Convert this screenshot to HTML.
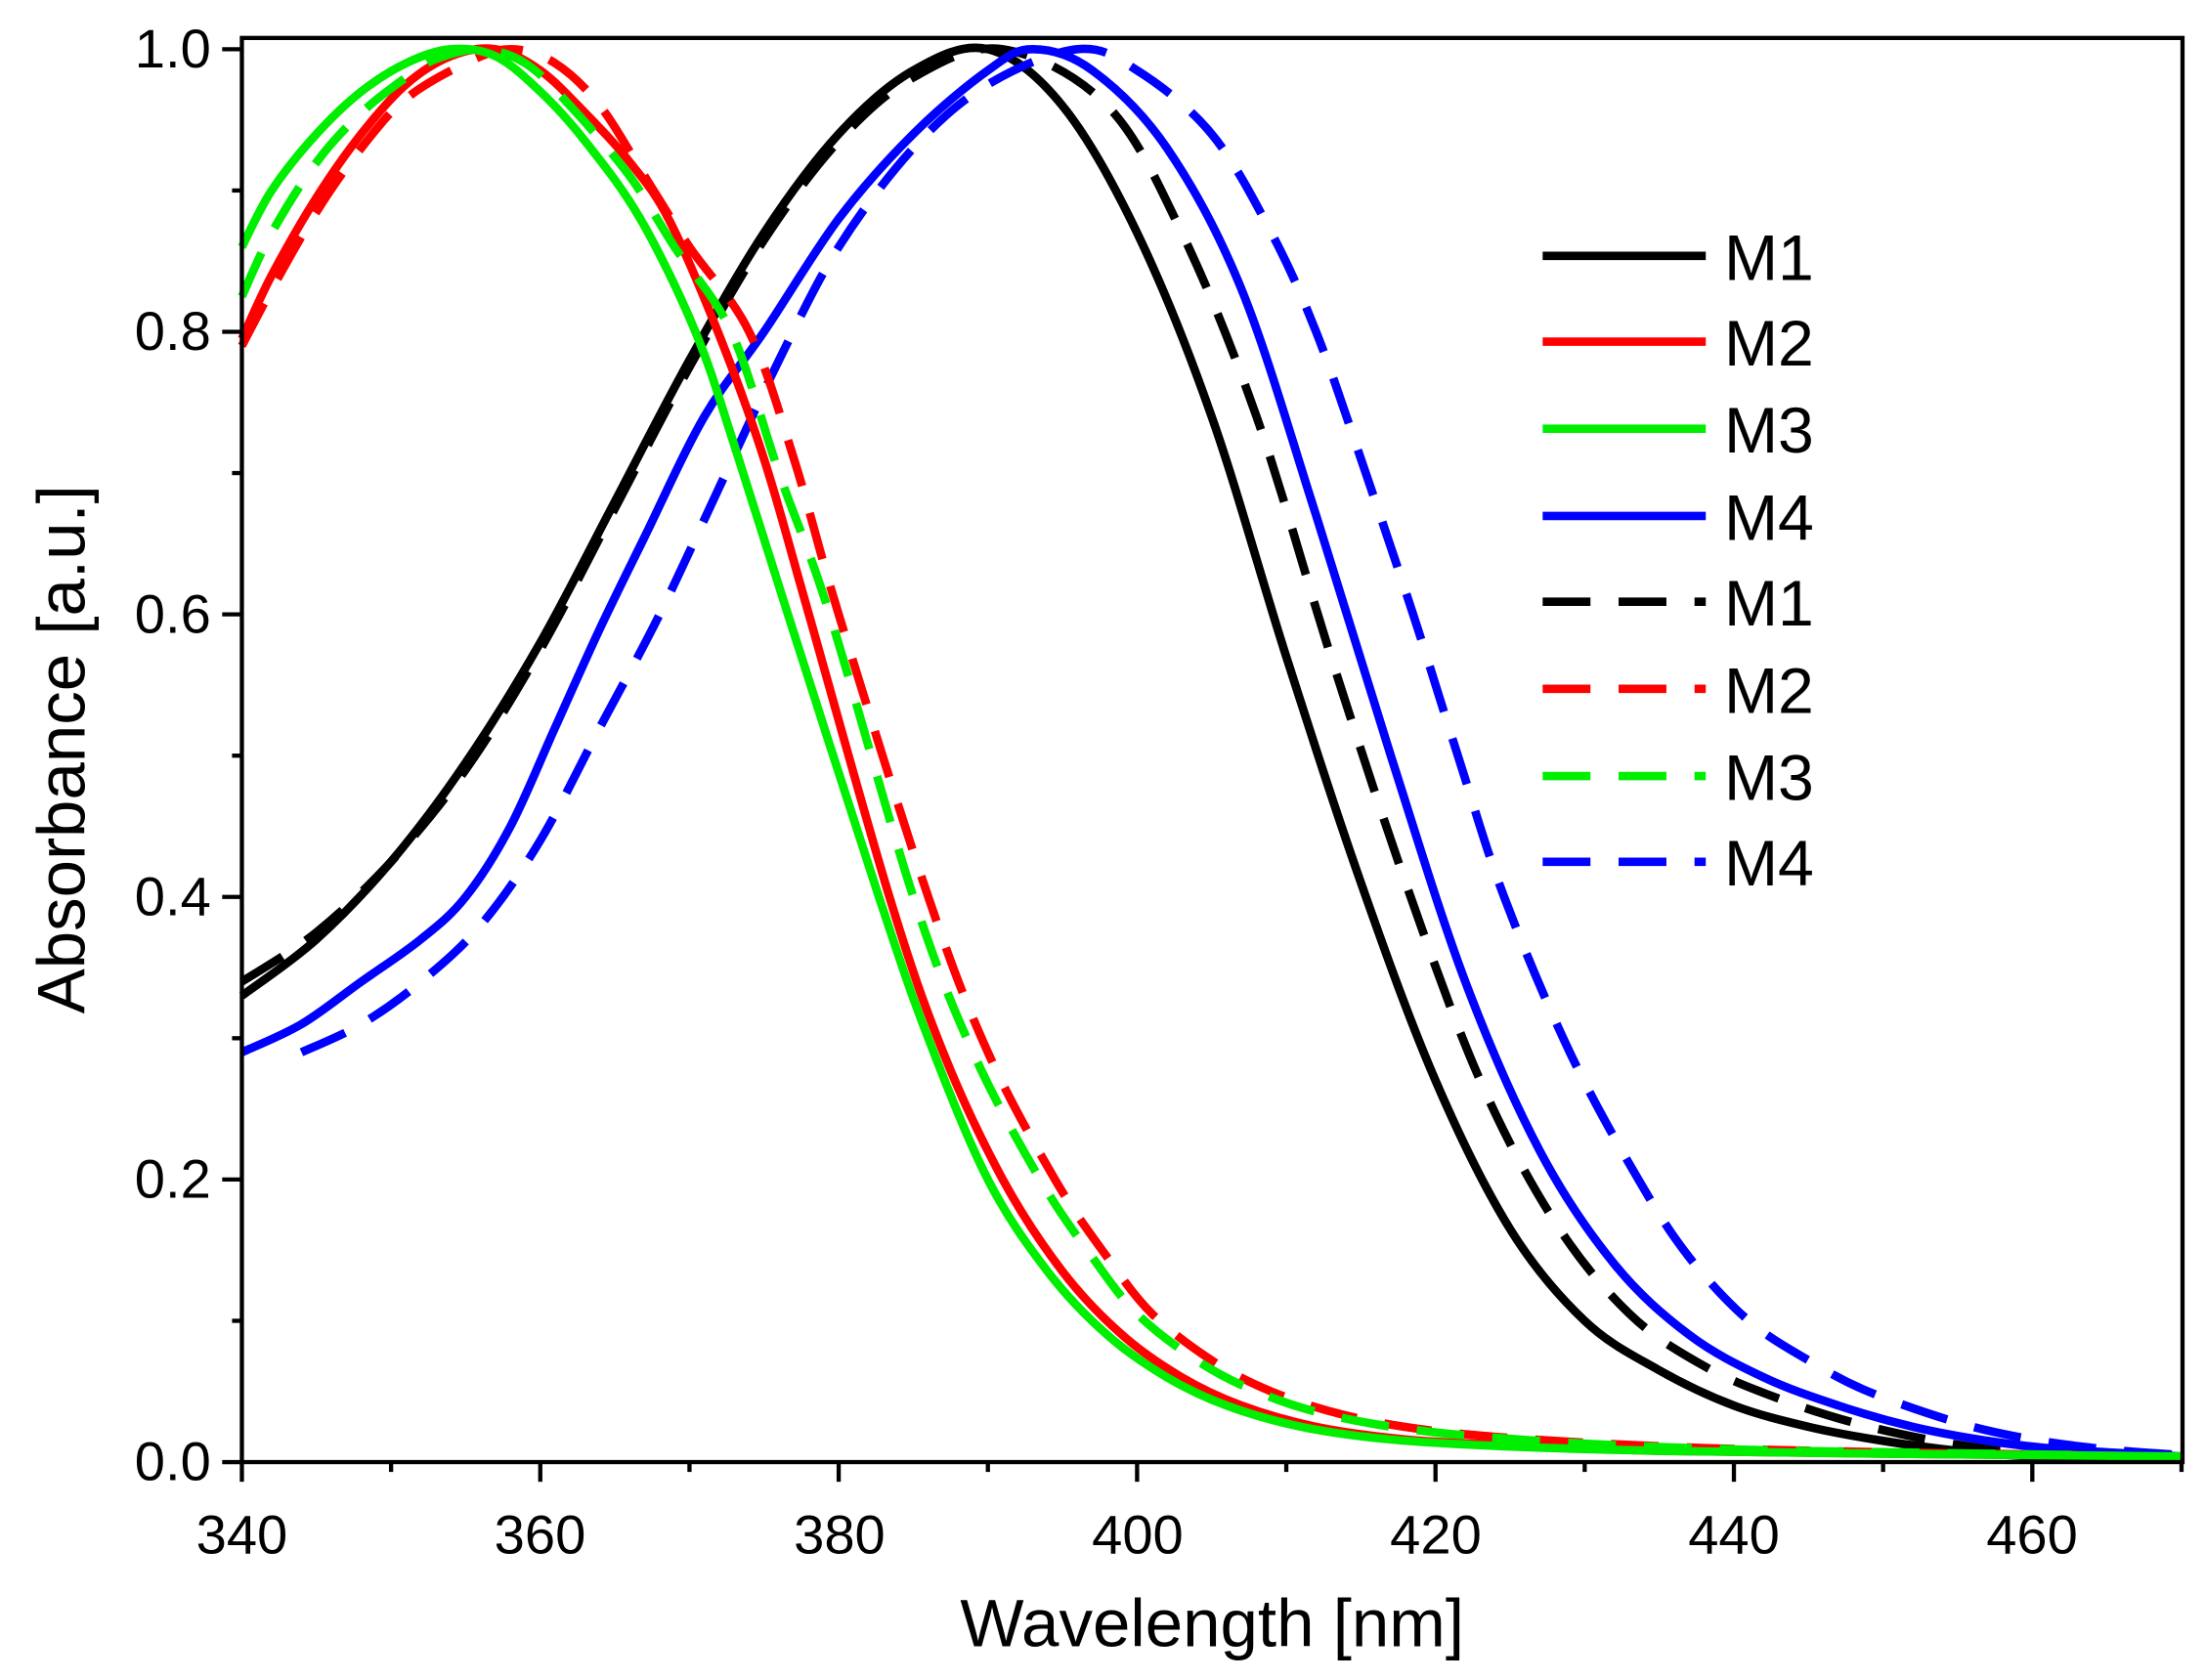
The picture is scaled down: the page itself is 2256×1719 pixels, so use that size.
<!DOCTYPE html>
<html><head><meta charset="utf-8"><style>
html,body{margin:0;padding:0;background:#fff}
svg{display:block}
text{font-family:"Liberation Sans",Arial,sans-serif;fill:#000}
</style></head><body>
<svg id="s" width="2256" height="1719" viewBox="0 0 1568 1195" preserveAspectRatio="none" xmlns="http://www.w3.org/2000/svg">
<rect width="1568" height="1195" fill="#fff"/>
<g id="curves" fill="none" stroke-width="6" stroke-linejoin="round" stroke-linecap="butt"></g>
<rect x="172" y="27" width="1380" height="1013" fill="none" stroke="#000" stroke-width="3"/>
<g id="ticks" stroke="#000" stroke-width="3"></g>
<g font-size="39" text-anchor="end">
<text x="150" y="1053">0.0</text><text x="150" y="852">0.2</text><text x="150" y="651">0.4</text>
<text x="150" y="450">0.6</text><text x="150" y="249">0.8</text><text x="150" y="48">1.0</text>
</g>
<g font-size="39" text-anchor="middle">
<text x="172" y="1105">340</text><text x="384" y="1105">360</text><text x="597" y="1105">380</text>
<text x="809" y="1105">400</text><text x="1021" y="1105">420</text><text x="1233" y="1105">440</text><text x="1445" y="1105">460</text>
</g>
<text x="862" y="1171" font-size="48" text-anchor="middle">Wavelength [nm]</text>
<text transform="translate(60,533) rotate(-90)" font-size="48" text-anchor="middle">Absorbance [a.u.]</text>
<g stroke-width="6">
<line x1="1097" y1="182" x2="1213" y2="182" stroke="#000"/>
<line x1="1097" y1="243" x2="1213" y2="243" stroke="#f00"/>
<line x1="1097" y1="305" x2="1213" y2="305" stroke="#0e0"/>
<line x1="1097" y1="367" x2="1213" y2="367" stroke="#00f"/>
<line x1="1097" y1="428" x2="1213" y2="428" stroke="#000" stroke-dasharray="34,20"/>
<line x1="1097" y1="490" x2="1213" y2="490" stroke="#f00" stroke-dasharray="34,20"/>
<line x1="1097" y1="552" x2="1213" y2="552" stroke="#0e0" stroke-dasharray="34,20"/>
<line x1="1097" y1="613" x2="1213" y2="613" stroke="#00f" stroke-dasharray="34,20"/>
</g>
<g font-size="46">
<text x="1226" y="199">M1</text><text x="1226" y="260">M2</text><text x="1226" y="322">M3</text><text x="1226" y="384">M4</text>
<text x="1226" y="445">M1</text><text x="1226" y="507">M2</text><text x="1226" y="569">M3</text><text x="1226" y="630">M4</text>
</g>
</svg>
<script>
var X=function(n){return 172+(n-340)*10.61},Y=function(a){return 1040-a*1005};
var ns="http://www.w3.org/2000/svg";
var t=document.getElementById('ticks');
function ln(x1,y1,x2,y2){var l=document.createElementNS(ns,'line');l.setAttribute('x1',x1);l.setAttribute('y1',y1);l.setAttribute('x2',x2);l.setAttribute('y2',y2);t.appendChild(l);}
for(var i=0;i<=10;i++){var y=Y(i/10);ln(172,y,i%2?165:158,y);}
for(var n=340;n<=470;n+=10){var x=X(n);ln(x,1040,x,(n%20)?1047:1054);}
var S=[
["#000",0,[[340,.33],[345,.37],[350,.425],[355,.495],[360,.58],[365,.68],[370,.78],[375,.87],[380,.94],[385,.985],[390,1],[395,.96],[400,.87],[405,.74],[410,.57],[415,.41],[420,.27],[425,.165],[430,.10],[435,.065],[440,.04],[445,.025],[450,.015],[455,.008],[460,.004],[465,.002]]],
["#000",1,[[340,.34],[345,.375],[350,.425],[355,.49],[360,.575],[365,.675],[370,.775],[375,.865],[380,.935],[385,.98],[391,1],[398,.96],[403,.87],[408,.74],[413,.57],[418,.41],[423,.27],[428,.17],[433,.105],[438,.068],[443,.045],[448,.028],[453,.016],[458,.008],[463,.004]]],
["#00f",0,[[340,.29],[344,.31],[348,.34],[352,.37],[355,.40],[358,.45],[361,.52],[364,.59],[367,.655],[371,.74],[375,.80],[380,.88],[385,.94],[390,.985],[393,1],[397,.985],[402,.93],[407,.83],[412,.67],[417,.50],[422,.34],[427,.22],[432,.14],[437,.09],[442,.06],[447,.04],[452,.025],[457,.015],[462,.009],[470,.004]]],
["#00f",1,[[344,.29],[348,.31],[352,.34],[356,.38],[360,.44],[364,.52],[368,.60],[372,.69],[376,.78],[380,.86],[385,.93],[390,.975],[396,1],[400,.985],[405,.94],[409,.87],[412,.80],[415,.71],[418.5,.60],[421.5,.50],[424.6,.40],[429,.29],[433.6,.20],[437,.145],[441,.10],[445,.072],[449,.05],[455,.028],[460,.016],[465,.009],[470,.005]]],
["#f00",0,[[340,.795],[342,.84],[345,.895],[348,.94],[351,.975],[354,.995],[357,1],[360,.985],[363,.955],[366,.92],[368.6,.88],[371.9,.80],[375,.71],[378,.60],[383.4,.40],[387,.29],[391,.20],[395,.135],[399,.09],[403,.06],[407,.04],[412,.025],[418,.016],[425,.012],[435,.008],[450,.006],[470,.004]]],
["#f00",1,[[340,.79],[342,.83],[345,.885],[348,.93],[351,.965],[355,.99],[358,1],[361,.99],[364,.96],[367,.91],[370,.86],[374,.80],[377,.71],[380,.60],[386,.40],[390,.29],[394.5,.20],[398,.145],[401,.105],[405,.072],[409,.05],[414,.033],[420,.022],[428,.015],[438,.01],[450,.007],[463,.005]]],
["#0e0",0,[[340,.86],[342,.9],[345,.94],[348,.97],[351,.99],[354,1],[357,.995],[360,.97],[363,.935],[366.7,.88],[370.4,.80],[373,.72],[376.6,.60],[382.7,.40],[386,.30],[390,.20],[394,.135],[398,.09],[402,.06],[406,.04],[411,.025],[417,.016],[425,.011],[435,.008],[450,.006],[470,.004]]],
["#0e0",1,[[340,.825],[342,.87],[345,.92],[348,.955],[351,.98],[353,.993],[356,1],[359,.99],[362,.96],[366,.91],[369,.86],[372.8,.80],[376,.70],[379.4,.60],[385,.40],[389,.29],[393.5,.20],[397,.145],[400,.105],[404,.072],[408,.05],[413,.033],[420,.021],[430,.013],[440,.009],[450,.007],[463,.005]]]
];
var g=document.getElementById('curves');
S.forEach(function(s){
 var p=s[2].map(function(q){return [X(q[0]),Y(q[1])]});
 var d="M"+p[0][0].toFixed(1)+","+p[0][1].toFixed(1);
 for(var i=0;i<p.length-1;i++){
  var p0=p[i-1]||p[i],p1=p[i],p2=p[i+1],p3=p[i+2]||p2;
  var c1=[p1[0]+(p2[0]-p0[0])/6,p1[1]+(p2[1]-p0[1])/6],c2=[p2[0]-(p3[0]-p1[0])/6,p2[1]-(p3[1]-p1[1])/6];
  d+="C"+c1[0].toFixed(1)+","+c1[1].toFixed(1)+" "+c2[0].toFixed(1)+","+c2[1].toFixed(1)+" "+p2[0].toFixed(1)+","+p2[1].toFixed(1);
 }
 var e=document.createElementNS(ns,'path');e.setAttribute('d',d);e.setAttribute('stroke',s[0]);
 if(s[1])e.setAttribute('stroke-dasharray','34,20');
 g.appendChild(e);
});
</script>
</body></html>
